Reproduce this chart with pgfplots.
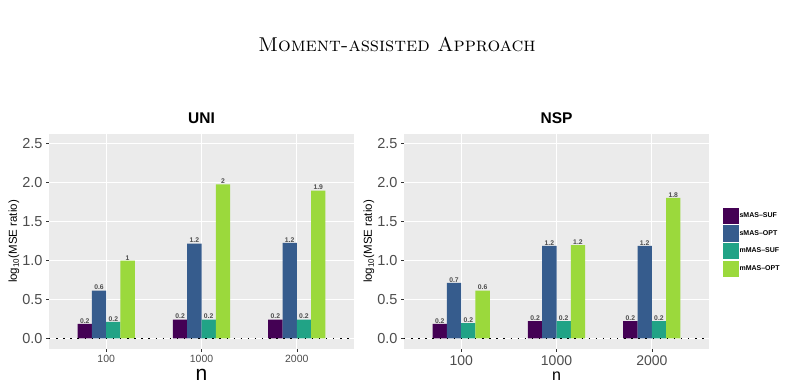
\documentclass[border=0pt]{standalone}
\usepackage{pgfplots}
\pgfplotsset{compat=1.18}
\usepackage{pgfplotstable}
\usepackage{fontspec}
\setsansfont{Liberation Sans}
\definecolor{cA}{HTML}{440154}
\definecolor{cB}{HTML}{365C8D}
\definecolor{cC}{HTML}{21A386}
\definecolor{cD}{HTML}{9BD93C}
\definecolor{panelbg}{HTML}{EBEBEB}
\definecolor{tickgray}{HTML}{4D4D4D}
\definecolor{tickline}{HTML}{333333}
\definecolor{labgray}{HTML}{4D4D4D}

\pgfplotstableread{
x a la b lb c lc d ld
0 0.185 0.2 0.610 0.6 0.210 0.2 0.995 1
1 0.240 0.2 1.215 1.2 0.240 0.2 1.975 2
2 0.240 0.2 1.225 1.2 0.240 0.2 1.895 1.9
}\uni
\pgfplotstableread{
x a la b lb c lc d ld
0 0.185 0.2 0.710 0.7 0.195 0.2 0.610 0.6
1 0.220 0.2 1.185 1.2 0.220 0.2 1.195 1.2
2 0.220 0.2 1.185 1.2 0.220 0.2 1.800 1.8
}\nsp

\pgfplotsset{
  keyimg/.style={legend image code/.code={\fill[##1, draw=white, line width=0.6pt] (0pt,-8.6pt) rectangle (17pt,8.6pt);}},
  panel/.style={
    width=305pt, height=215pt, scale only axis,
    xmin=-0.6, xmax=2.6, ymin=-0.137, ymax=2.62,
    axis background/.style={fill=panelbg},
    axis line style={draw=none},
    grid=major, major grid style={white, line width=0.9pt},
    xtick={0,1,2}, xticklabels={100,1000,2000},
    ytick={0,0.5,1,1.5,2,2.5}, yticklabels={0.0,0.5,1.0,1.5,2.0,2.5},
    tick pos=left, tick align=outside, major tick length=3pt,
    tick style={color=tickline, line width=0.5pt},
    yticklabel style={font=\fontsize{14.5}{15}\selectfont\sffamily, text=tickgray},
    ybar, bar width=0.15,
    point meta=explicit symbolic,
    nodes near coords,
    nodes near coords style={font=\fontsize{6.8}{7}\selectfont\sffamily\bfseries, text=labgray, anchor=south, inner sep=0.5pt},
    every axis y label/.style={at={(rel axis cs:0,0.5)}, xshift=-35pt, rotate=90, anchor=center},
    ylabel={\fontsize{11.5}{12}\selectfont\sffamily log\textsubscript{10}(MSE ratio)},
    title style={at={(rel axis cs:0.5,1)}, anchor=base, yshift=4pt, font=\fontsize{15.5}{16}\selectfont\sffamily\bfseries},
  }
}

\begin{document}
\begin{tikzpicture}
\path[use as bounding box] (0,0) rectangle (794pt,385pt);
\node at (397pt,341pt) {\fontsize{20}{22}\selectfont\textsc{Moment-assisted Approach}};

\begin{axis}[panel, at={(49pt,36pt)}, anchor=south west,
  title={UNI},
  xticklabel style={font=\fontsize{10.5}{11}\selectfont\sffamily, text=tickgray},
  every axis x label/.style={at={(rel axis cs:0.5,0)}, yshift=-26pt, anchor=center, inner sep=0pt},
  xlabel={\fontsize{21}{22}\selectfont\sffamily n}]
\addplot[fill=cA, draw=none, bar shift=-0.225] table[x=x, y=a, meta=la] {\uni};
\addplot[fill=cB, draw=none, bar shift=-0.075] table[x=x, y=b, meta=lb] {\uni};
\addplot[fill=cC, draw=none, bar shift=0.075] table[x=x, y=c, meta=lc] {\uni};
\addplot[fill=cD, draw=none, bar shift=0.225] table[x=x, y=d, meta=ld] {\uni};
\draw[black, line width=1.4pt, dash pattern=on 1.4pt off 5.7pt] (axis cs:-0.6,0) -- (axis cs:2.6,0);
\end{axis}

\begin{axis}[panel, at={(404pt,36pt)}, anchor=south west,
  title={NSP},
  xticklabel style={font=\fontsize{14}{15}\selectfont\sffamily, text=tickgray, inner sep=0pt, yshift=-3.5pt},
  every axis x label/.style={at={(rel axis cs:0.5,0)}, yshift=-27.5pt, anchor=center, inner sep=0pt},
  xlabel={\fontsize{16}{17}\selectfont\sffamily n},
  legend style={at={(rel axis cs:1.0425,0.662)}, anchor=north west, draw=none, fill=none,
    inner sep=0pt, outer sep=0pt, row sep=0pt,
    font=\fontsize{7}{8}\selectfont\sffamily\bfseries,
    nodes={inner sep=0pt, anchor=west},
    /tikz/every even column/.append style={column sep=4pt}},
  ]
\addplot[fill=cA, draw=none, bar shift=-0.225, keyimg] table[x=x, y=a, meta=la] {\nsp};
\addplot[fill=cB, draw=none, bar shift=-0.075, keyimg] table[x=x, y=b, meta=lb] {\nsp};
\addplot[fill=cC, draw=none, bar shift=0.075, keyimg] table[x=x, y=c, meta=lc] {\nsp};
\addplot[fill=cD, draw=none, bar shift=0.225, keyimg] table[x=x, y=d, meta=ld] {\nsp};
\draw[black, line width=1.4pt, dash pattern=on 1.4pt off 5.7pt] (axis cs:-0.6,0) -- (axis cs:2.6,0);
\legend{sMAS--SUF, sMAS--OPT, mMAS--SUF, mMAS--OPT}
\end{axis}
\end{tikzpicture}
\end{document}
